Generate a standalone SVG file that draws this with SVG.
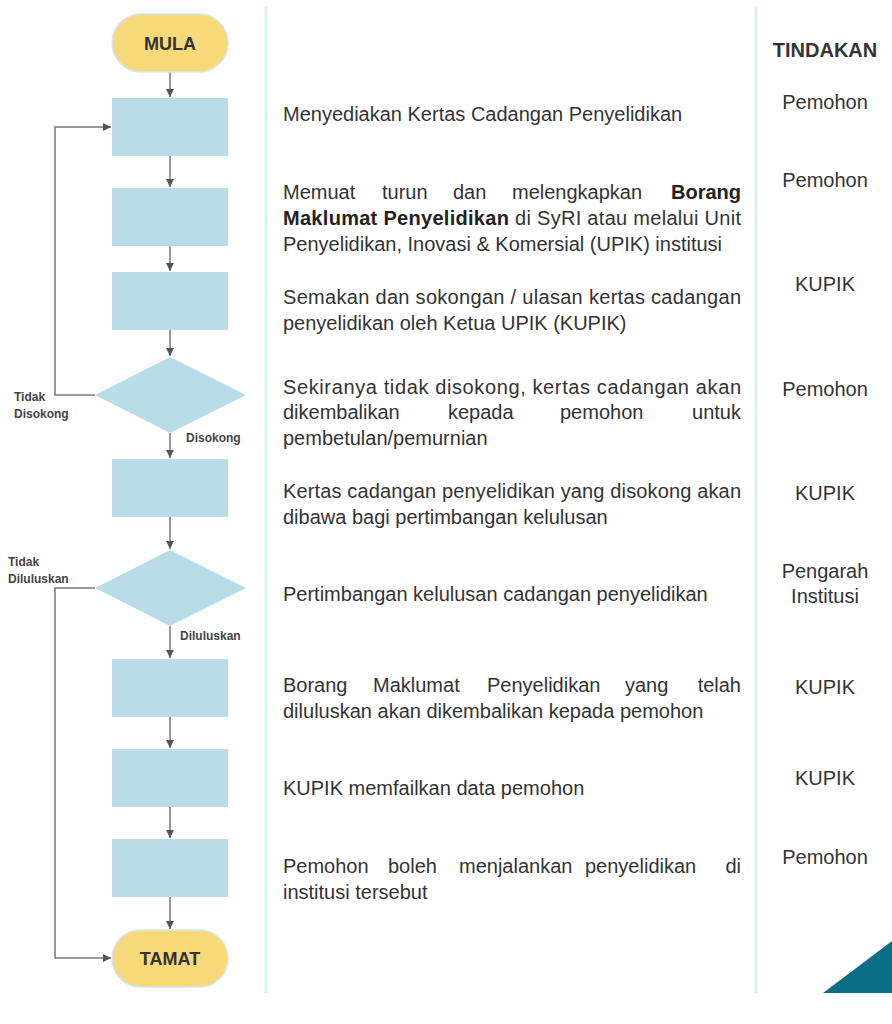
<svg xmlns="http://www.w3.org/2000/svg" width="892" height="1024" viewBox="0 0 892 1024">
<defs>
<style>
.box{fill:#b8dde8;}
.term{fill:#f8d97a;stroke:#d6e6ea;stroke-width:1.5;}
.tt{font-family:"Liberation Sans",Arial,sans-serif;font-weight:bold;font-size:18px;fill:#333;text-anchor:middle;}
.lbl{font-family:"Liberation Sans",Arial,sans-serif;font-weight:bold;font-size:12px;fill:#444;}
.t{font-family:"Liberation Sans",Arial,sans-serif;font-size:20px;fill:#333;}
.b{font-weight:bold;fill:#222;}
.act{font-family:"Liberation Sans",Arial,sans-serif;font-size:20px;fill:#333;text-anchor:middle;}
.ln{stroke:#777;stroke-width:1.5;fill:none;}
.div{stroke:#dcedf4;stroke-width:3;}
</style>
<marker id="ah" markerWidth="10" markerHeight="10" refX="9" refY="5" orient="auto" markerUnits="userSpaceOnUse">
<path d="M1,1 L9,5 L1,9 Z" fill="#555"/>
</marker>
</defs>
<rect width="892" height="1024" fill="#fff"/>
<line class="div" x1="266" y1="6" x2="266" y2="993"/>
<line class="div" x1="756" y1="6" x2="756" y2="993"/>
<polygon points="823,993 892,941 892,993" fill="#0a6e86"/>

<g id="connectors">
<line class="ln" x1="170" y1="72" x2="170" y2="97" marker-end="url(#ah)"/>
<line class="ln" x1="170" y1="156" x2="170" y2="187" marker-end="url(#ah)"/>
<line class="ln" x1="170" y1="246" x2="170" y2="271" marker-end="url(#ah)"/>
<line class="ln" x1="170" y1="330" x2="170" y2="356" marker-end="url(#ah)"/>
<line class="ln" x1="170" y1="433" x2="170" y2="458" marker-end="url(#ah)"/>
<line class="ln" x1="170" y1="517" x2="170" y2="549" marker-end="url(#ah)"/>
<line class="ln" x1="170" y1="626" x2="170" y2="658" marker-end="url(#ah)"/>
<line class="ln" x1="170" y1="717" x2="170" y2="748" marker-end="url(#ah)"/>
<line class="ln" x1="170" y1="807" x2="170" y2="838" marker-end="url(#ah)"/>
<line class="ln" x1="170" y1="897" x2="170" y2="929" marker-end="url(#ah)"/>
<polyline class="ln" points="95,395 55,395 55,127 111,127" marker-end="url(#ah)"/>
<polyline class="ln" points="95,588 55,588 55,958 111,958" marker-end="url(#ah)"/>
<text class="lbl" x="14" y="401">Tidak</text>
<text class="lbl" x="14" y="418">Disokong</text>
<text class="lbl" x="186" y="442">Disokong</text>
<text class="lbl" x="8" y="566">Tidak</text>
<text class="lbl" x="8" y="583">Diluluskan</text>
<text class="lbl" x="180" y="640">Diluluskan</text>
</g>

<g id="mula"><rect class="term" x="112" y="14" width="116" height="58" rx="29"/><text class="tt" x="170" y="50">MULA</text></g>
<g id="step1"><rect class="box" x="112" y="98" width="116" height="58"/></g>
<g id="step2"><rect class="box" x="112" y="188" width="116" height="58"/></g>
<g id="step3"><rect class="box" x="112" y="272" width="116" height="58"/></g>
<g id="dec1"><polygon class="box" points="170,357 246,395 170,433 95,395"/></g>
<g id="step4"><rect class="box" x="112" y="459" width="116" height="58"/></g>
<g id="dec2"><polygon class="box" points="170,550 246,588 170,626 95,588"/></g>
<g id="step5"><rect class="box" x="112" y="659" width="116" height="58"/></g>
<g id="step6"><rect class="box" x="112" y="749" width="116" height="58"/></g>
<g id="step7"><rect class="box" x="112" y="839" width="116" height="58"/></g>
<g id="tamat"><rect class="term" x="112" y="930" width="116" height="57" rx="28.5"/><text class="tt" x="170" y="965">TAMAT</text></g>

<g id="desc">
<text class="t" x="283" y="121">Menyediakan Kertas Cadangan Penyelidikan</text>
<text class="t" y="199"><tspan x="283">Memuat</tspan><tspan x="382">turun</tspan><tspan x="453">dan</tspan><tspan x="512">melengkapkan</tspan><tspan class="b" x="741" text-anchor="end">Borang</tspan></text>
<text class="t" x="283" y="225" textLength="458" lengthAdjust="spacing"><tspan class="b">Maklumat Penyelidikan</tspan> di SyRI atau melalui Unit</text>
<text class="t" x="283" y="251">Penyelidikan, Inovasi &amp; Komersial (UPIK) institusi</text>
<text class="t" x="283" y="304" textLength="458" lengthAdjust="spacing">Semakan dan sokongan / ulasan kertas cadangan</text>
<text class="t" x="283" y="330">penyelidikan oleh Ketua UPIK (KUPIK)</text>
<text class="t" x="283" y="394" textLength="458" lengthAdjust="spacing">Sekiranya tidak disokong, kertas cadangan akan</text>
<text class="t" y="419"><tspan x="283">dikembalikan</tspan><tspan x="448">kepada</tspan><tspan x="560">pemohon</tspan><tspan x="741" text-anchor="end">untuk</tspan></text>
<text class="t" x="283" y="445">pembetulan/pemurnian</text>
<text class="t" x="283" y="498" textLength="458" lengthAdjust="spacing">Kertas cadangan penyelidikan yang disokong akan</text>
<text class="t" x="283" y="524">dibawa bagi pertimbangan kelulusan</text>
<text class="t" x="283" y="601">Pertimbangan kelulusan cadangan penyelidikan</text>
<text class="t" y="692"><tspan x="283">Borang</tspan><tspan x="373">Maklumat</tspan><tspan x="487">Penyelidikan</tspan><tspan x="625">yang</tspan><tspan x="741" text-anchor="end">telah</tspan></text>
<text class="t" x="283" y="718">diluluskan akan dikembalikan kepada pemohon</text>
<text class="t" x="283" y="795">KUPIK memfailkan data pemohon</text>
<text class="t" y="873"><tspan x="283">Pemohon</tspan><tspan x="388">boleh</tspan><tspan x="459">menjalankan</tspan><tspan x="585">penyelidikan</tspan><tspan x="741" text-anchor="end">di</tspan></text>
<text class="t" x="283" y="899">institusi tersebut</text>
</g>

<g id="tindakan">
<text class="act" x="825" y="57" font-weight="bold" fill="#111">TINDAKAN</text>
<text class="act" x="825" y="109">Pemohon</text>
<text class="act" x="825" y="187">Pemohon</text>
<text class="act" x="825" y="291">KUPIK</text>
<text class="act" x="825" y="396">Pemohon</text>
<text class="act" x="825" y="500">KUPIK</text>
<text class="act" x="825" y="578">Pengarah</text>
<text class="act" x="825" y="603">Institusi</text>
<text class="act" x="825" y="694">KUPIK</text>
<text class="act" x="825" y="785">KUPIK</text>
<text class="act" x="825" y="864">Pemohon</text>
</g>
</svg>
